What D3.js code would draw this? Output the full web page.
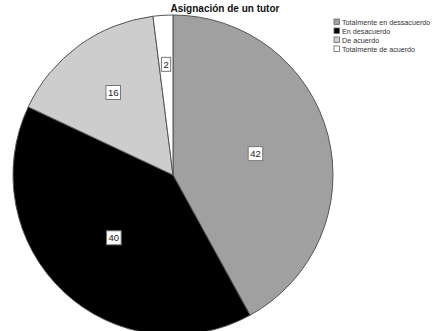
<!DOCTYPE html>
<html>
<head>
<meta charset="utf-8">
<script src="https://cdn.jsdelivr.net/npm/d3@7"></script>
<style>
  html, body { margin: 0; padding: 0; background: #fff; }
  svg { display: block; font-family: "Liberation Sans", Arial, sans-serif; }
</style>
</head>
<body>
<svg id="chart" width="445" height="331"></svg>
<script>
// Response categories and counts for the pie
const categories = ["Totalmente en dessacuerdo", "En desacuerdo", "De acuerdo", "Totalmente de acuerdo"];
const values = [42, 40, 16, 2];
const sliceColors = ["#a0a0a0", "#000000", "#cdcdcd", "#ffffff"];
const title = "Asignación de un tutor";

const svg = d3.select("#chart");
const cx = 173, cy = 175, R = 160;

svg.append("text")
  .attr("x", 225).attr("y", 12)
  .attr("text-anchor", "middle")
  .attr("font-size", 10).attr("font-weight", "bold")
  .attr("fill", "#111")
  .text(title);

const color = d3.scaleOrdinal().domain(categories).range(sliceColors);

const pie = d3.pie().sort(null).value(d => d.value);
const data = categories.map((c, i) => ({ name: c, value: values[i] }));
const arcs = pie(data);

const arc = d3.arc().innerRadius(0).outerRadius(R);

const g = svg.append("g").attr("transform", `translate(${cx},${cy})`);

g.selectAll("path.slice")
  .data(arcs)
  .enter().append("path")
  .attr("class", "slice")
  .attr("d", arc)
  .attr("fill", d => color(d.data.name))
  .attr("stroke", "#555")
  .attr("stroke-width", 1);

// Narrow slices push their labels further out toward the rim
function labelRadius(d) {
  const span = d.endAngle - d.startAngle;
  return R * (0.5 + 0.2 * (1 - Math.min(1, span / Math.PI)));
}

const labels = g.selectAll("g.lbl")
  .data(arcs)
  .enter().append("g")
  .attr("class", "lbl")
  .attr("transform", d => {
    const r = labelRadius(d);
    const [x, y] = d3.arc().innerRadius(r).outerRadius(r).centroid(d);
    return `translate(${x},${y})`;
  });

labels.each(function(d) {
  const sel = d3.select(this);
  const t = sel.append("text")
    .attr("text-anchor", "middle")
    .attr("dy", "0.35em")
    .attr("font-size", 9.5)
    .attr("fill", "#222")
    .text(d.data.value);
  const bb = t.node().getBBox();
  sel.insert("rect", "text")
    .attr("x", bb.x - 2).attr("y", bb.y - 1.5)
    .attr("width", bb.width + 4).attr("height", bb.height + 3)
    .attr("fill", "#fff")
    .attr("stroke", "#777")
    .attr("stroke-width", 1);
});

// Legend
const legend = svg.append("g").attr("transform", "translate(334,19)");
const item = legend.selectAll("g")
  .data(categories)
  .enter().append("g")
  .attr("transform", (d, i) => `translate(0,${i * 9})`);

item.append("rect")
  .attr("width", 5.5).attr("height", 5.5)
  .attr("fill", d => color(d))
  .attr("stroke", "#666").attr("stroke-width", 0.8);

item.append("text")
  .attr("x", 8).attr("y", 5.5)
  .attr("font-size", 7.2)
  .attr("fill", "#333")
  .text(d => d);
</script>
</body>
</html>
